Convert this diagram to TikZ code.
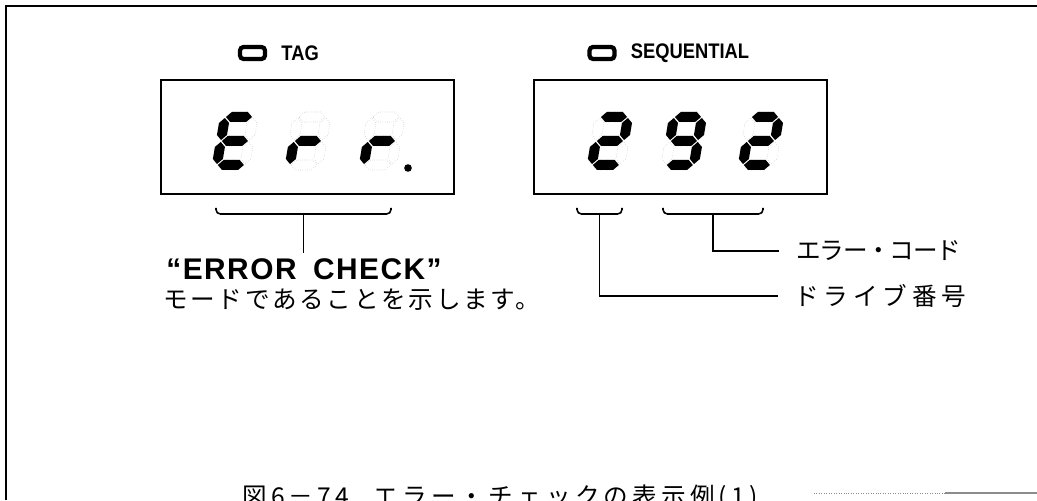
\documentclass[tikz,border=0pt]{standalone}
\usepackage{fontspec}
\usetikzlibrary{positioning}
\newfontfamily\jpfont{Noto Sans CJK JP}
\newfontfamily\hvfont{Liberation Sans}

% seven segment outlines (px units, digit 38 x 58)
\newcommand{\hsegpath}[1]{(6,#1) -- (11,#1+5) -- (27,#1+5) -- (32,#1) -- (27,#1-5) -- (11,#1-5) -- cycle}
\newcommand{\vsegpath}[3]{(#1,#2) -- (#1+5,#2+5) -- (#1+5,#3-5) -- (#1,#3) -- (#1-5,#3-5) -- (#1-5,#2+5) -- cycle}
\expandafter\def\csname segpathA\endcsname{\hsegpath{53}}
\expandafter\def\csname segpathG\endcsname{\hsegpath{29}}
\expandafter\def\csname segpathD\endcsname{\hsegpath{5}}
\expandafter\def\csname segpathF\endcsname{\vsegpath{5}{30}{52}}
\expandafter\def\csname segpathE\endcsname{\vsegpath{5}{6}{28}}
\expandafter\def\csname segpathB\endcsname{\vsegpath{33}{30}{52}}
\expandafter\def\csname segpathC\endcsname{\vsegpath{33}{6}{28}}

\newcommand{\segdigit}[3]{%
  \begin{scope}[shift={(#1,#2)}, xslant=0.17]
    \foreach \s in {A,B,C,D,E,F,G} {\path[segoff] \csname segpath\s\endcsname;}
    \foreach \s in {#3} {\path[segon] \csname segpath\s\endcsname;}
  \end{scope}}

\tikzset{
  disp/.style={draw, line width=1.6pt, minimum width=5.86cm, minimum height=2.28cm, inner sep=0},
  led/.style={draw, line width=2.4pt, rounded corners=2pt, minimum width=0.5cm, minimum height=0.24cm, inner sep=0},
  ledlabel/.style={font={\hvfont\bfseries\fontsize{12}{14}\selectfont}, inner sep=0, anchor=west},
  jp/.style={font={\jpfont\fontsize{14}{16}\selectfont}, inner sep=0},
  segon/.style={fill=black},
  segoff/.style={draw=black!25, line width=0.3pt, densely dotted},
  brace/.style={line width=0.9pt, rounded corners=2.5pt},
  lead/.style={line width=0.9pt},
}

\begin{document}
\begin{tikzpicture}[x=0.02cm, y=0.02cm]
  \useasboundingbox (0,0) rectangle (1037,500);
  % outer frame
  \draw[line width=0.9pt] (6,0) |- (1037,494);

  % indicator lamps
  \node[led] (tagled) at (252.5,447) {};
  \node[ledlabel, right=0.28cm of tagled] (taglbl) {\scalebox{0.87}[1]{TAG}};
  \node[led] (seqled) at (602,447) {};
  \node[ledlabel, right=0.28cm of seqled] (seqlbl) {\scalebox{0.87}[1]{SEQUENTIAL}};

  % display windows
  \node[disp] (tagbox) at (307.5,363) {};
  \node[disp] (seqbox) at (680.5,363) {};

  % digits
  \segdigit{211}{330}{A,D,E,F,G}
  \segdigit{284}{330}{E,G}
  \segdigit{358}{330}{E,G}
  \fill (408,332) circle (3.8);
  \segdigit{586}{330}{A,B,G,E,D}
  \segdigit{660}{330}{A,B,C,D,F,G}
  \segdigit{737}{330}{A,B,G,E,D}

  % brackets
  \draw[brace] (216,292) -- (216,286) -- (391,286) -- (391,292);
  \coordinate (mode) at (303.5,286);
  \coordinate (modeend) at (303.5,247);
  \draw[brace] (577,292) -- (577,286) -- (622,286) -- (622,292);
  \coordinate (drv) at (599.5,286);
  \draw[brace] (663,292) -- (663,286) -- (763,286) -- (763,292);
  \coordinate (code) at (713,286);

  % texts
  \node[inner sep=0, font={\hvfont\bfseries\fontsize{17}{19}\selectfont}]
    (errchk) at (304,231) {\addfontfeatures{LetterSpace=5}“ERROR\hspace{0.55em}CHECK”};
  \node[jp, anchor=west] (modetxt) at (163,200) {\addfontfeatures{LetterSpace=11}モードであることを示します。};
  \node[jp, anchor=west] (codetxt) at (796,249) {\addfontfeatures{LetterSpace=-5}エラー・コード};
  \node[jp, anchor=west] (drvtxt) at (794,204) {\addfontfeatures{LetterSpace=20}ドライブ番号};

  % leaders
  \draw[lead] (mode) -- (modeend);
  \draw[lead] (code) |- ([xshift=-0.34cm]codetxt.west);
  \draw[lead] (drv) |- ([xshift=-0.32cm]drvtxt.west);

  % caption (cut by the page edge)
  \node[jp, anchor=base west] (caption) at (242,-6)
    {\addfontfeatures{LetterSpace=17}図\,6\,－\,74\quad エラー・チェックの表示例(1)};
  \draw[black!45, densely dotted, line width=0.4pt] (814,7) -- (945,7);
  \draw[black!45, line width=0.8pt] (945,7) -- (1037,7);
\end{tikzpicture}
\end{document}
